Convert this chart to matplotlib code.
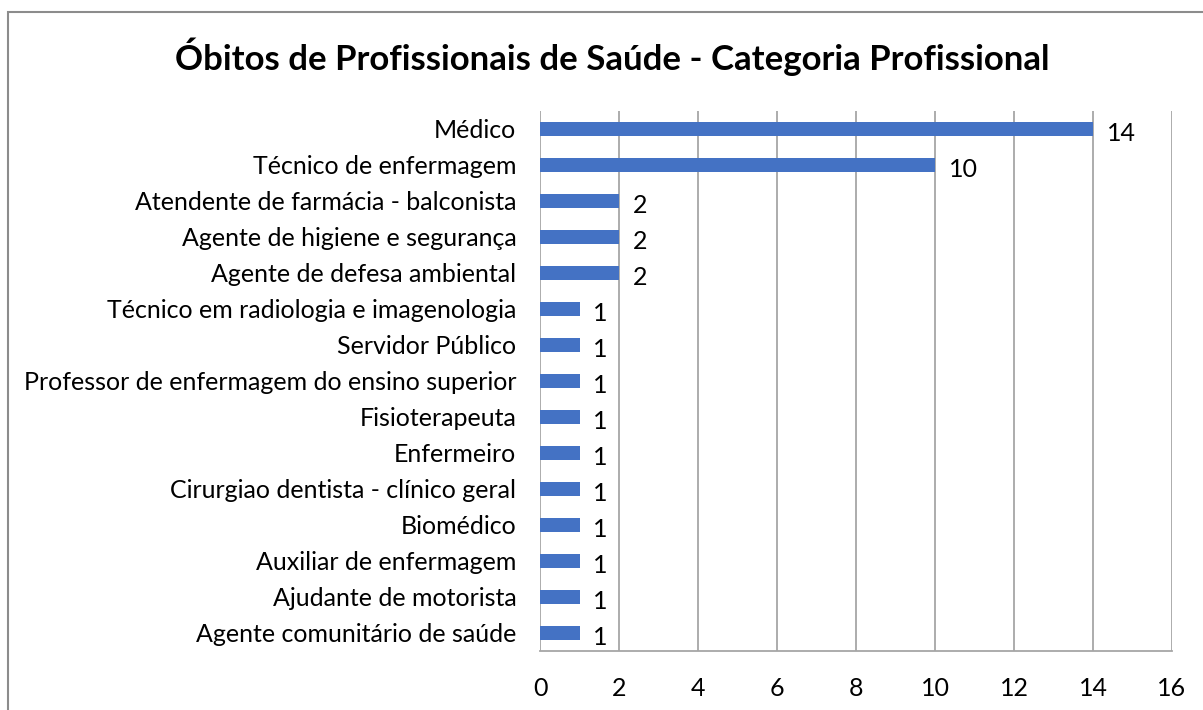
import matplotlib.pyplot as plt
from matplotlib.patches import Rectangle

categorias = [
    "Médico",
    "Técnico de enfermagem",
    "Atendente de farmácia - balconista",
    "Agente de higiene e segurança",
    "Agente de defesa ambiental",
    "Técnico em radiologia e imagenologia",
    "Servidor Público",
    "Professor de enfermagem do ensino superior",
    "Fisioterapeuta",
    "Enfermeiro",
    "Cirurgiao dentista - clínico geral",
    "Biomédico",
    "Auxiliar de enfermagem",
    "Ajudante de motorista",
    "Agente comunitário de saúde",
]
obitos = [14, 10, 2, 2, 2, 1, 1, 1, 1, 1, 1, 1, 1, 1, 1]
ticks_x = [0, 2, 4, 6, 8, 10, 12, 14, 16]

plt.rcParams['font.family'] = ['Lato', 'DejaVu Sans']

fig = plt.figure(figsize=(12.03, 7.10), dpi=100)
ax = fig.add_axes([540 / 1203, 59 / 710, 632 / 1203, 540 / 710])

y = list(range(len(categorias)))
ax.barh(y, obitos, height=0.39, color="#4472C4", zorder=3)
for yi, v in zip(y, obitos):
    ax.annotate(str(v), (v, yi), xytext=(10, -3), textcoords="offset points",
                va="center", ha="left", fontsize=18, color="#000000")

ax.set_xlim(0, 16)
ax.set_ylim(len(categorias) - 0.5, -0.5)
ax.set_xticks(ticks_x)
ax.set_yticks(y)
ax.set_yticklabels(categorias)
ax.tick_params(axis="y", length=0, pad=17, labelsize=18)
ax.tick_params(axis="x", length=0, pad=19, labelsize=18)
ax.grid(axis="x", color="#A6A6A6", linewidth=1.3, zorder=0)
for s in ["top", "right", "left"]:
    ax.spines[s].set_visible(False)
ax.spines["bottom"].set_color("#A6A6A6")
ax.spines["bottom"].set_linewidth(1.3)

fig.text(612 / 1203, 1 - 57 / 710, "Óbitos de Profissionais de Saúde - Categoria Profissional",
         ha="center", va="center", fontsize=25, fontweight="bold")

fig.patches.append(Rectangle((8 / 1203, -0.1), 2, (698 / 710) + 0.1,
                             transform=fig.transFigure, fill=False,
                             edgecolor="#8C8C8C", linewidth=1.5))

fig.savefig("out.png", dpi=100)
